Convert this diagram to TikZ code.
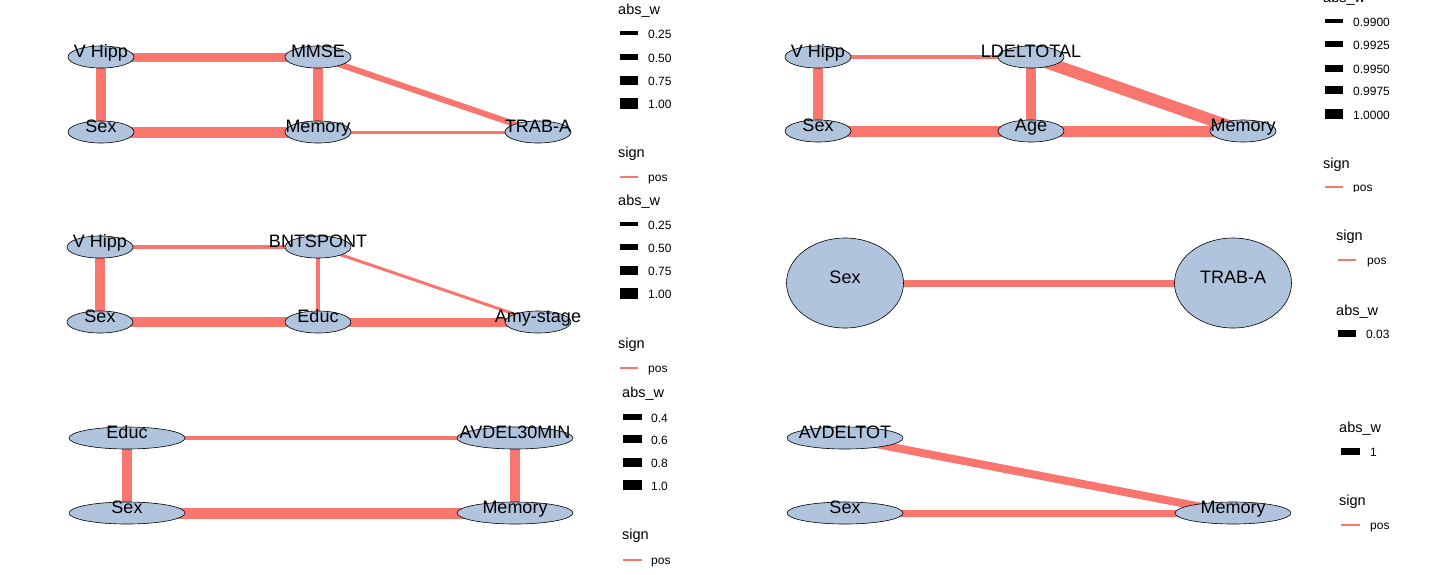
\documentclass[tikz,border=0pt]{standalone}
\usepackage{fontspec}
\setmainfont{Liberation Sans}
\usetikzlibrary{shapes.geometric,backgrounds}
\definecolor{edgec}{HTML}{F8766D}
\definecolor{nodec}{HTML}{B0C4DE}
\tikzset{
  nd/.style 2 args={ellipse, draw=black, line width=0.6pt, fill=nodec, inner sep=0pt,
    minimum width=#1, minimum height=#2},
  sn/.style={nd={66pt}{22pt}},
  wn/.style={nd={116pt}{22pt}},
  bn/.style={nd={117pt}{90pt}},
  lbl/.style={font=\fontsize{18}{18}\selectfont, anchor=base, inner sep=0pt},
  edg/.style={draw=edgec, line width=#1},
  lgh/.style={font=\fontsize{14.5}{14.5}\selectfont, anchor=base west, inner sep=0pt},
  lgt/.style={font=\fontsize{12}{12}\selectfont, anchor=base west, inner sep=0pt},
  keyline/.style={draw=black, line width=#1},
  posline/.style={draw=edgec, line width=1.3pt},
}
\begin{document}
\begin{tikzpicture}[x=1pt, y=-1pt]
\useasboundingbox (0,0) rectangle (1436,574);

% ---------------- Panel 1 ----------------
\node[sn] (vh1) at (101,57) {};
\node[sn] (mm1) at (318,57) {};
\node[sn] (sx1) at (101,132) {};
\node[sn] (me1) at (318,132) {};
\node[sn] (tr1) at (538,132) {};
\node[lbl] (vh1t) at (vh1.center) {V Hipp};
\node[lbl] (mm1t) at (mm1.center) {MMSE};
\node[lbl] (sx1t) at (sx1.center) {Sex};
\node[lbl] (me1t) at (me1.center) {Memory};
\node[lbl] (tr1t) at (tr1.center) {TRAB-A};
\begin{pgfonlayer}{background}
\draw[edg=9] (vh1.center) -- (mm1.center);
\draw[edg=10] (vh1.center) -- (sx1.center);
\draw[edg=10] (mm1.center) -- (me1.center);
\draw[edg=11] (sx1.center) -- (me1.center);
\draw[edg=3] (me1.center) -- (tr1.center);
\draw[edg=6] (mm1.center) -- (tr1.center);
\end{pgfonlayer}

% legend 1
\node[lgh] (l1t) at (618,14.5) {abs\_w};
\draw[keyline=4] (620,33) -- (638,33);
\draw[keyline=6.5] (620,57) -- (638,57);
\draw[keyline=9] (620,80) -- (638,80);
\draw[keyline=11] (620,103) -- (638,103);
\node[lgt] (l1a) at (648,38) {0.25};
\node[lgt] (l1b) at (648,62) {0.50};
\node[lgt] (l1c) at (648,85) {0.75};
\node[lgt] (l1d) at (648,108) {1.00};
\node[lgh] (l1s) at (618,157) {sign};
\draw[posline] (620,177) -- (638,177);
\node[lgt] (l1p) at (648,181.5) {pos};

% ---------------- Panel 2 ----------------
\node[sn] (vh2) at (818,57) {};
\node[sn] (ld2) at (1031,57) {};
\node[sn] (sx2) at (818,131) {};
\node[sn] (ag2) at (1031,131) {};
\node[sn] (me2) at (1243,131) {};
\node[lbl] (vh2t) at (vh2.center) {V Hipp};
\node[lbl] (ld2t) at (ld2.center) {LDELTOTAL};
\node[lbl] (sx2t) at (sx2.center) {Sex};
\node[lbl] (ag2t) at (ag2.center) {Age};
\node[lbl] (me2t) at (me2.center) {Memory};
\begin{pgfonlayer}{background}
\draw[edg=4] (vh2.center) -- (ld2.center);
\draw[edg=10] (vh2.center) -- (sx2.center);
\draw[edg=10] (ld2.center) -- (ag2.center);
\draw[edg=11] (sx2.center) -- (ag2.center);
\draw[edg=11] (ag2.center) -- (me2.center);
\draw[edg=12] (ld2.center) -- (me2.center);
\end{pgfonlayer}

% legend 2 (clipped as in the reference)
\begin{scope}
\clip (1300,-20) rectangle (1436,191);
\node[lgh] (l2t) at (1323,2) {abs\_w};
\draw[keyline=4] (1325,21) -- (1343,21);
\draw[keyline=5.5] (1325,44) -- (1343,44);
\draw[keyline=7] (1325,68) -- (1343,68);
\draw[keyline=8.5] (1325,90) -- (1343,90);
\draw[keyline=10] (1325,114) -- (1343,114);
\node[lgt] (l2a) at (1353,26) {0.9900};
\node[lgt] (l2b) at (1353,49) {0.9925};
\node[lgt] (l2c) at (1353,73) {0.9950};
\node[lgt] (l2d) at (1353,95) {0.9975};
\node[lgt] (l2e) at (1353,119) {1.0000};
\node[lgh] (l2s) at (1323,168) {sign};
\draw[posline] (1325,187) -- (1343,187);
\node[lgt] (l2p) at (1353,191.5) {pos};
\end{scope}

% ---------------- Panel 3 ----------------
\node[sn] (vh3) at (100,247) {};
\node[sn] (bn3) at (318,247) {};
\node[sn] (sx3) at (100,322) {};
\node[sn] (ed3) at (318,322) {};
\node[sn] (am3) at (538,322) {};
\node[lbl] (vh3t) at (vh3.center) {V Hipp};
\node[lbl] (bn3t) at (bn3.center) {BNTSPONT};
\node[lbl] (sx3t) at (sx3.center) {Sex};
\node[lbl] (ed3t) at (ed3.center) {Educ};
\node[lbl] (am3t) at (am3.center) {Amy-stage};
\begin{pgfonlayer}{background}
\draw[edg=4] (vh3.center) -- (bn3.center);
\draw[edg=10] (vh3.center) -- (sx3.center);
\draw[edg=4] (bn3.center) -- (ed3.center);
\draw[edg=10] (sx3.center) -- (ed3.center);
\draw[edg=9] (ed3.center) -- (am3.center);
\draw[edg=3] (bn3.center) -- (am3.center);
\end{pgfonlayer}

% legend 3
\node[lgh] (l3t) at (618,205.5) {abs\_w};
\draw[keyline=4] (620,224) -- (638,224);
\draw[keyline=6.5] (620,247) -- (638,247);
\draw[keyline=9] (620,270) -- (638,270);
\draw[keyline=11] (620,293) -- (638,293);
\node[lgt] (l3a) at (648,229) {0.25};
\node[lgt] (l3b) at (648,252) {0.50};
\node[lgt] (l3c) at (648,275) {0.75};
\node[lgt] (l3d) at (648,298) {1.00};
\node[lgh] (l3s) at (618,348) {sign};
\draw[posline] (620,368) -- (638,368);
\node[lgt] (l3p) at (648,372.5) {pos};

% ---------------- Panel 4 ----------------
\node[bn] (sx4) at (845,283) {};
\node[bn] (tr4) at (1233,283) {};
\node[lbl] (sx4t) at (sx4.center) {Sex};
\node[lbl] (tr4t) at (tr4.center) {TRAB-A};
\begin{pgfonlayer}{background}
\draw[edg=7] (sx4.center) -- (tr4.center);
\end{pgfonlayer}

% legend 4
\node[lgh] (l4s) at (1336,240) {sign};
\draw[posline] (1338,260) -- (1356,260);
\node[lgt] (l4p) at (1367,264.5) {pos};
\node[lgh] (l4t) at (1336,315) {abs\_w};
\draw[keyline=7] (1338,333) -- (1356,333);
\node[lgt] (l4a) at (1366,338) {0.03};

% ---------------- Panel 5 ----------------
\node[wn] (ed5) at (127,438) {};
\node[wn] (av5) at (515,438) {};
\node[wn] (sx5) at (127,513) {};
\node[wn] (me5) at (515,513) {};
\node[lbl] (ed5t) at (ed5.center) {Educ};
\node[lbl] (av5t) at (av5.center) {AVDEL30MIN};
\node[lbl] (sx5t) at (sx5.center) {Sex};
\node[lbl] (me5t) at (me5.center) {Memory};
\begin{pgfonlayer}{background}
\draw[edg=4.5] (ed5.center) -- (av5.center);
\draw[edg=10] (ed5.center) -- (sx5.center);
\draw[edg=10] (av5.center) -- (me5.center);
\draw[edg=11] (sx5.center) -- (me5.center);
\end{pgfonlayer}

% legend 5
\node[lgh] (l5t) at (622,397) {abs\_w};
\draw[keyline=6] (623,417) -- (642,417);
\draw[keyline=7.5] (623,439) -- (642,439);
\draw[keyline=9] (623,462) -- (642,462);
\draw[keyline=10.5] (623,485) -- (642,485);
\node[lgt] (l5a) at (651,422) {0.4};
\node[lgt] (l5b) at (651,444) {0.6};
\node[lgt] (l5c) at (651,467) {0.8};
\node[lgt] (l5d) at (651,490) {1.0};
\node[lgh] (l5s) at (622,539) {sign};
\draw[posline] (623,560) -- (642,560);
\node[lgt] (l5p) at (651,564.5) {pos};

% ---------------- Panel 6 ----------------
\node[wn] (av6) at (845,438) {};
\node[wn] (sx6) at (845,513) {};
\node[wn] (me6) at (1233,513) {};
\node[lbl] (av6t) at (av6.center) {AVDELTOT};
\node[lbl] (sx6t) at (sx6.center) {Sex};
\node[lbl] (me6t) at (me6.center) {Memory};
\begin{pgfonlayer}{background}
\draw[edg=8] (av6.center) -- (me6.center);
\draw[edg=7] (sx6.center) -- (me6.center);
\end{pgfonlayer}

% legend 6
\node[lgh] (l6t) at (1339,432) {abs\_w};
\draw[keyline=7] (1341,451) -- (1360,451);
\node[lgt] (l6a) at (1370,456) {1};
\node[lgh] (l6s) at (1339,505) {sign};
\draw[posline] (1341,525) -- (1360,525);
\node[lgt] (l6p) at (1370,529.5) {pos};
\end{tikzpicture}
\end{document}
